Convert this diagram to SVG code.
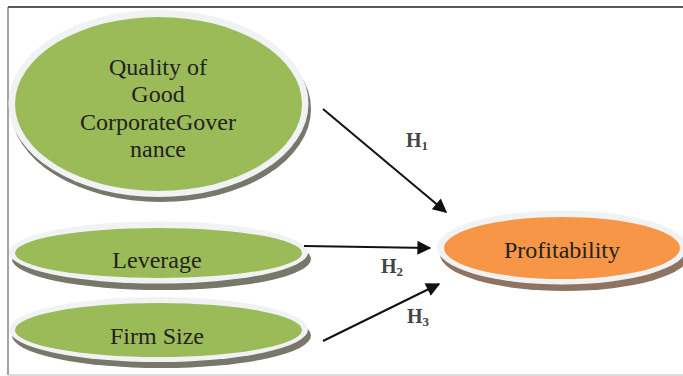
<svg xmlns="http://www.w3.org/2000/svg" width="683" height="376" viewBox="0 0 683 376">
<style>
.ring{fill:#F0F2F4}
.gshadow{fill:#77776A}
.oshadow{fill:#8E7262}
.green{fill:#9BBB59}
.orange{fill:#F79646}
.conn{stroke:#111;stroke-width:2;fill:none;marker-end:url(#arr)}
</style>
<defs>
<marker id="arr" viewBox="0 0 10 10" refX="9" refY="5" markerWidth="8" markerHeight="7" markerUnits="strokeWidth" orient="auto">
<path d="M0,0 L10,5 L0,10 z" fill="#111"/>
</marker>
</defs>
<rect width="683" height="376" fill="#fff"/>
<g id="frame">
<line x1="8" y1="7" x2="683" y2="7" stroke="#222" stroke-width="1.5"/>
<line x1="8" y1="7" x2="8" y2="375" stroke="#666" stroke-width="1.2"/>
<line x1="8" y1="375" x2="683" y2="375" stroke="#bbb" stroke-width="1.2"/>
</g>
<g id="node-cg">
<ellipse class="gshadow" cx="161" cy="109" rx="150" ry="93"/>
<ellipse class="ring" cx="158.5" cy="103.5" rx="150" ry="93.5"/>
<ellipse class="green" cx="158.5" cy="104" rx="143.5" ry="87"/>
<g font-family="Liberation Serif, Times New Roman, serif" font-size="24" fill="#222" text-anchor="middle">
<text x="158" y="75">Quality of</text>
<text x="158" y="102">Good</text>
<text x="158" y="130">CorporateGover</text>
<text x="158" y="157">nance</text>
</g>
</g>
<g id="node-leverage">
<ellipse class="gshadow" cx="161.5" cy="259" rx="149.5" ry="31"/>
<ellipse class="ring" cx="158.5" cy="252.5" rx="149.5" ry="31"/>
<ellipse class="green" cx="158.5" cy="253" rx="143.5" ry="25"/>
<text x="157" y="268" font-family="Liberation Serif, Times New Roman, serif" font-size="24" fill="#222" text-anchor="middle">Leverage</text>
</g>
<g id="node-firmsize">
<ellipse class="gshadow" cx="161.5" cy="335.5" rx="149.5" ry="32.5"/>
<ellipse class="ring" cx="158.5" cy="329.5" rx="149.5" ry="32.5"/>
<ellipse class="green" cx="158.5" cy="330" rx="143.5" ry="27"/>
<text x="157" y="344" font-family="Liberation Serif, Times New Roman, serif" font-size="24" fill="#222" text-anchor="middle">Firm Size</text>
</g>
<g id="node-profitability">
<ellipse class="oshadow" cx="565" cy="254" rx="125" ry="37"/>
<ellipse class="ring" cx="562" cy="247.5" rx="125" ry="37"/>
<ellipse class="orange" cx="562" cy="248" rx="118" ry="31"/>
<text x="562" y="258" font-family="Liberation Serif, Times New Roman, serif" font-size="24" fill="#222" text-anchor="middle">Profitability</text>
</g>
<g id="connectors">
<line class="conn" x1="323" y1="109" x2="446" y2="212"/>
<line class="conn" x1="304" y1="246" x2="430" y2="248"/>
<line class="conn" x1="323" y1="341" x2="439" y2="284"/>
<g font-family="Liberation Serif, Times New Roman, serif" font-size="20" font-weight="bold" fill="#444">
<text x="406" y="147">H<tspan font-size="13" dy="3">1</tspan></text>
<text x="381" y="273">H<tspan font-size="13" dy="3">2</tspan></text>
<text x="407" y="323">H<tspan font-size="13" dy="3">3</tspan></text>
</g>
</g>
</svg>
